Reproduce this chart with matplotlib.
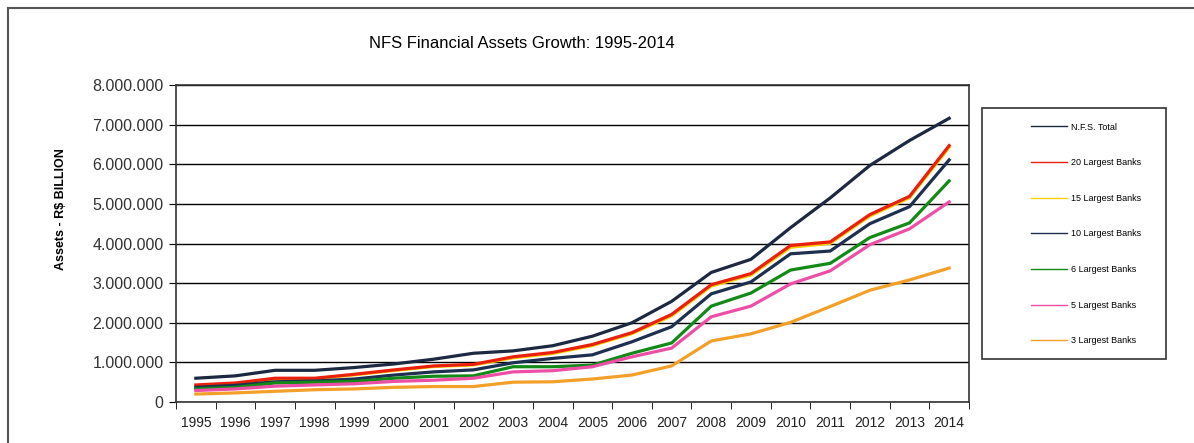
import matplotlib
matplotlib.use("Agg")
import matplotlib.pyplot as plt
from matplotlib.patches import Rectangle
from matplotlib.ticker import FuncFormatter, FixedLocator
import numpy as np

plt.rcParams['font.family'] = ['Liberation Sans', 'DejaVu Sans']

years = [str(y) for y in range(1995, 2015)]

# values in R$ (thousands shown with '.' separators)
nfs_total = [600000, 660000, 800000, 800000, 870000, 960000, 1080000, 1230000, 1290000, 1420000,
             1660000, 2000000, 2540000, 3270000, 3600000, 4400000, 5150000, 5970000, 6600000, 7160000]
largest_20 = [430000, 480000, 600000, 600000, 700000, 810000, 910000, 950000, 1140000, 1250000,
              1450000, 1750000, 2210000, 2960000, 3240000, 3950000, 4040000, 4730000, 5190000, 6470000]
largest_15 = [410000, 460000, 580000, 580000, 680000, 790000, 890000, 930000, 1110000, 1220000,
              1420000, 1720000, 2170000, 2920000, 3200000, 3900000, 4000000, 4690000, 5150000, 6420000]
largest_10 = [370000, 420000, 510000, 530000, 580000, 680000, 760000, 810000, 990000, 1100000,
              1190000, 1520000, 1900000, 2730000, 3030000, 3740000, 3810000, 4500000, 4930000, 6110000]
largest_6 = [330000, 370000, 480000, 500000, 520000, 600000, 650000, 660000, 890000, 890000,
             930000, 1230000, 1490000, 2420000, 2750000, 3330000, 3500000, 4150000, 4520000, 5580000]
largest_5 = [290000, 330000, 400000, 430000, 460000, 520000, 550000, 600000, 760000, 790000,
             890000, 1140000, 1360000, 2150000, 2420000, 2980000, 3310000, 3970000, 4370000, 5050000]
largest_3 = [200000, 230000, 270000, 310000, 330000, 370000, 390000, 390000, 500000, 510000,
             580000, 680000, 910000, 1540000, 1720000, 2010000, 2410000, 2820000, 3080000, 3380000]

labels = ["N.F.S. Total", "20 Largest Banks", "15 Largest Banks", "10 Largest Banks",
          "6 Largest Banks", "5 Largest Banks", "3 Largest Banks"]
colors = ["#1c2940", "#e8200c", "#f5d000", "#1e3050", "#138a17", "#ee4fa6", "#f3a02a"]
series = [nfs_total, largest_20, largest_15, largest_10, largest_6, largest_5, largest_3]
zorders = [3, 4, 3.5, 5, 6, 7, 8]

W, H = 1194, 443
fig = plt.figure(figsize=(W / 100, H / 100), dpi=100)

# outer chart frame (top and left edges visible)
fig.add_artist(plt.Line2D([8 / W, 1], [1 - 8 / H, 1 - 8 / H], color="#555555", lw=1.5))
fig.add_artist(plt.Line2D([8 / W, 8 / W], [0, 1 - 8 / H], color="#555555", lw=1.5))

ax = fig.add_axes([176 / W, 1 - 402 / H, (969 - 176) / W, (402 - 85) / H])
x = np.arange(len(years))
handles = []
for s, lab, c, z in zip(series, labels, colors, zorders):
    lw = 2.0 if lab == "15 Largest Banks" else 2.3
    h, = ax.plot(x, s, color=c, lw=lw, label=lab, zorder=z, solid_joinstyle='miter')
    handles.append(h)

ax.set_xlim(-0.5, len(years) - 0.5)
ax.set_ylim(0, 8000000)
ax.set_yticks(np.arange(0, 8000001, 1000000))
ax.yaxis.set_major_formatter(FuncFormatter(lambda v, p: f"{int(v):,}".replace(",", ".")))
ax.grid(axis='y', color='black', lw=1.0, zorder=1)
ax.set_axisbelow(True)

ax.set_xticks(x)
ax.set_xticklabels(years, fontsize=10, color="#222222")
ax.xaxis.set_minor_locator(FixedLocator(np.arange(-0.5, len(years), 1)))
ax.tick_params(axis='x', which='major', length=0, pad=10)
ax.tick_params(axis='x', which='minor', length=5, direction='out', color='black')
ax.tick_params(axis='y', length=5, direction='out', color='black', labelsize=11.5, labelcolor="#333333", pad=4)
for sp in ax.spines.values():
    sp.set_color("#333333")
    sp.set_linewidth(1.2)

ax.set_ylabel("Assets - R$ BILLION", fontsize=9, fontweight='bold')
ax.yaxis.set_label_coords(-0.138, 0.61)

fig.text(522 / W, 1 - 43 / H, "NFS Financial Assets Growth: 1995-2014", fontsize=12,
         ha='center', va='center')

# legend frame
x0, x1, y0, y1 = 982, 1166, 108, 359
fig.add_artist(Rectangle((x0 / W, 1 - y1 / H), (x1 - x0) / W, (y1 - y0) / H,
                         transform=fig.transFigure, fill=False, edgecolor="#333333", lw=1.2))
leg = fig.legend(handles=handles, labels=labels, loc='center',
                 bbox_to_anchor=(1086 / W, 1 - 234 / H), frameon=False, fontsize=6.5,
                 labelspacing=2.95, handlelength=4.0, handletextpad=0.4)
for lh in leg.get_lines():
    lh.set_linewidth(1.0)

fig.savefig("out.png", dpi=100)
